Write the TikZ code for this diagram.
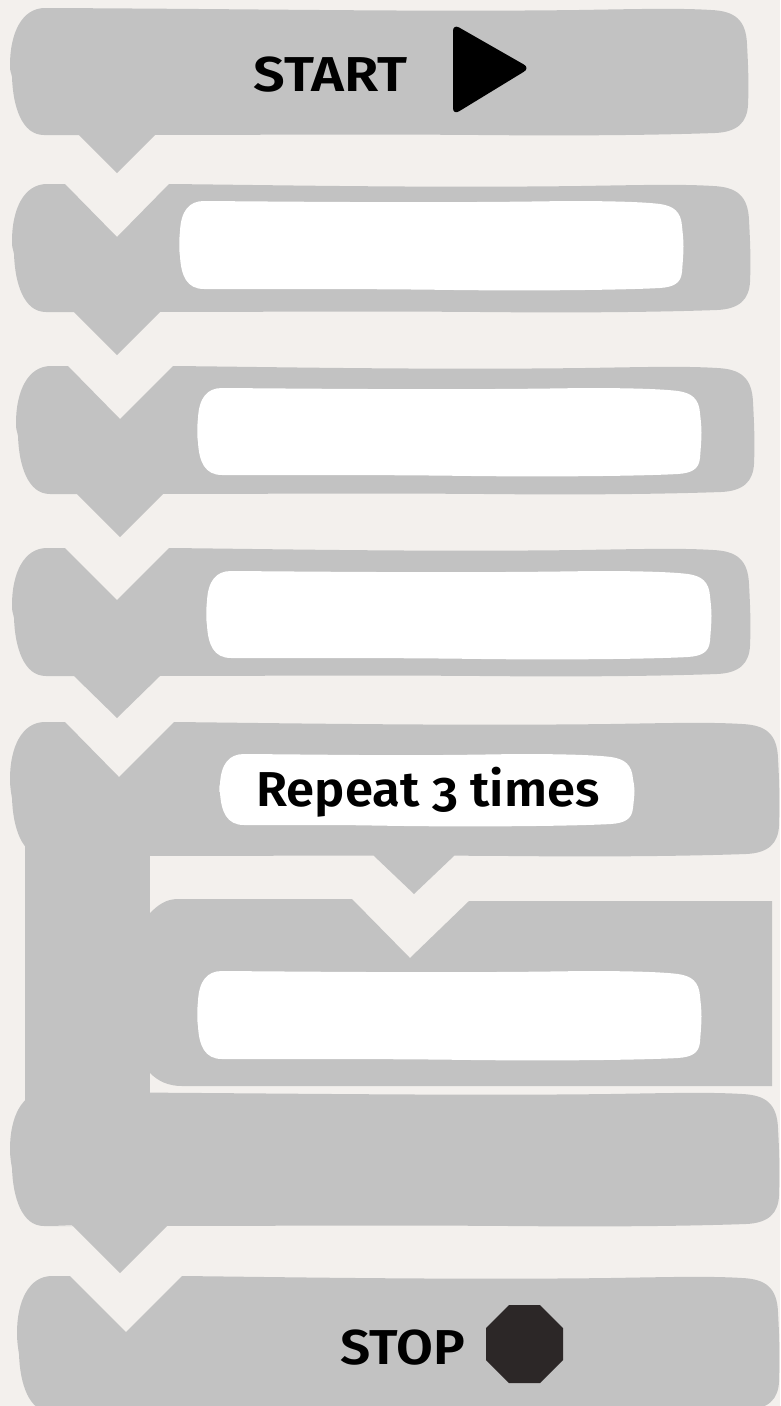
\documentclass[tikz,border=0pt]{standalone}
\usepackage{fontspec}
\setmainfont[Numbers=OldStyle,BoldFont={Fira Sans SemiBold}]{Fira Sans}
\definecolor{pagebg}{HTML}{F3F0ED}
\definecolor{blockgray}{HTML}{C2C2C2}
\definecolor{stopdark}{HTML}{2C2727}
\tikzset{
  blockfill/.style={fill=blockgray},
  slotfill/.style={fill=white},
  label/.style={font=\bfseries\fontsize{49}{49}\selectfont,text=black,inner sep=0pt,anchor=base},
}
% #1 L, #2 T, #3 R, #4 B, #5 top-edge notch, #6 bottom-edge tab
\newcommand\puzzleblock[6]{%
  \fill[blockfill] ({#1+35},{#2}) #5
    .. controls ({#1+260},{#2+1}) and ({#3-330},{#2+4}) .. ({#3-170},{#2+2})
    .. controls ({#3-110},{#2+1}) and ({#3-70},{#2}) .. ({#3-38},{#2+2})
    .. controls ({#3-14},{#2+3}) and ({#3-3},{#2+12}) .. ({#3-2},{#2+36})
    .. controls ({#3-1},{#2+55}) and ({#3},{#2+75}) .. ({#3-1},{#4-30})
    .. controls ({#3-2},{#4-13}) and ({#3-11},{#4-3}) .. ({#3-34},{#4-2})
    .. controls ({#3-90},{#4}) and ({#3-170},{#4+1}) .. ({#3-270},{#4})
    .. controls ({#3-400},{#4-1}) and ({#1+300},{#4}) .. ({#1+34},{#4}) #6 -- ({#1+34},{#4})
    .. controls ({#1+12},{#4}) and ({#1+3},{#4-28}) .. ({#1+2},{#4-58})
    .. controls ({#1+1},{#4-64}) and ({#1},{#2+65}) .. ({#1},{#2+57})
    .. controls ({#1},{#2+25}) and ({#1+12},{#2}) .. ({#1+35},{#2}) -- cycle;}
% #1 L, #2 T, #3 R, #4 B
\newcommand\slotbox[4]{%
  \fill[slotfill] ({#1+25},{#2})
    .. controls ({#1+150},{#2+1}) and ({#3-230},{#2+2}) .. ({#3-120},{#2})
    .. controls ({#3-70},{#2}) and ({#3-40},{#2+1}) .. ({#3-24},{#2+3})
    .. controls ({#3-10},{#2+5}) and ({#3-3},{#2+11}) .. ({#3-2},{#2+25})
    .. controls ({#3},{(#2+#4)/2}) and ({#3},{(#2+#4)/2}) .. ({#3-2},{#4-18})
    .. controls ({#3-3},{#4-7}) and ({#3-10},{#4-3}) .. ({#3-24},{#4-2})
    .. controls ({#3-60},{#4}) and ({#3-150},{#4+1}) .. ({#3-230},{#4})
    .. controls ({#3-300},{#4-1}) and ({#1+150},{#4-1}) .. ({#1+25},{#4-1})
    .. controls ({#1+8},{#4-1}) and ({#1+2},{#4-14}) .. ({#1+1},{#4-34})
    .. controls ({#1},{(#2+#4)/2+5}) and ({#1},{(#2+#4)/2-5}) .. ({#1+1},{#2+30})
    .. controls ({#1+2},{#2+10}) and ({#1+10},{#2}) .. ({#1+25},{#2}) -- cycle;}
\begin{document}
\begin{tikzpicture}[x=1pt,y=-1pt]
  \fill[pagebg] (0,0) rectangle (780,1406);
  \useasboundingbox (0,0) rectangle (780,1406);
  % START
  \puzzleblock{10}{8}{749}{135}{}{-- (156,134) -- (117,173) -- (79,135)}
  % plain steps
  \puzzleblock{12}{184}{751}{312}{-- (65,184) -- (117,237) -- (169,184)}{-- (160,312) -- (117,355) -- (74,312)}
  \slotbox{179}{201}{684}{290}
  \puzzleblock{16}{366}{755}{494}{-- (68,366) -- (120,419) -- (173,366)}{-- (163,494) -- (120,537) -- (77,494)}
  \slotbox{197}{388}{702}{476}
  \puzzleblock{12}{548}{751}{676}{-- (65,548) -- (117,600) -- (169,548)}{-- (160,676) -- (117,718) -- (74,676)}
  \slotbox{206}{571}{712}{659}
  % repeat bar column
  \fill[blockfill] (25,838) rectangle (150,1110);
  % repeat head
  \puzzleblock{10}{722}{780}{856}{-- (65,722) -- (119,777) -- (174,722)}{-- (455,855) -- (414,894) -- (373,855)}
  \slotbox{219}{754}{635}{826}
  % inner step
  \fill[blockfill] (150,913) .. controls (158,905) and (166,899) .. (178,899)
    -- (352,899) -- (410,958) -- (469,901) -- (772,901) -- (772,1086) -- (182,1086)
    .. controls (168,1086) and (158,1081) .. (150,1073) -- cycle;
  \slotbox{197}{971}{702}{1060}
  % repeat foot
  \puzzleblock{10}{1092}{780}{1226}{}{-- (168,1225) -- (120,1273) -- (72,1225)}
  % STOP
  \puzzleblock{17}{1276}{780}{1412}{-- (70,1276) -- (126,1332) -- (182,1276)}{}
  % start triangle
  \fill[black,rounded corners=7pt] (453,24) -- (530,68) -- (453,115) -- cycle;
  % stop octagon
  \fill[stopdark] (509,1305) -- (540,1305) -- (563,1328) -- (563,1360) -- (540,1383) -- (509,1383) -- (486,1360) -- (486,1328) -- cycle;
  % labels
  \node[label] (starttext) at (330.5,91) {\scalebox{1.145}[1]{START}};
  \node[label] (repeattext) at (428,806) {\scalebox{1.037}[1]{Repeat 3 times}};
  \node[label] (stoptext) at (403,1364) {\scalebox{1.09}[1]{STOP}};
\end{tikzpicture}
\end{document}
